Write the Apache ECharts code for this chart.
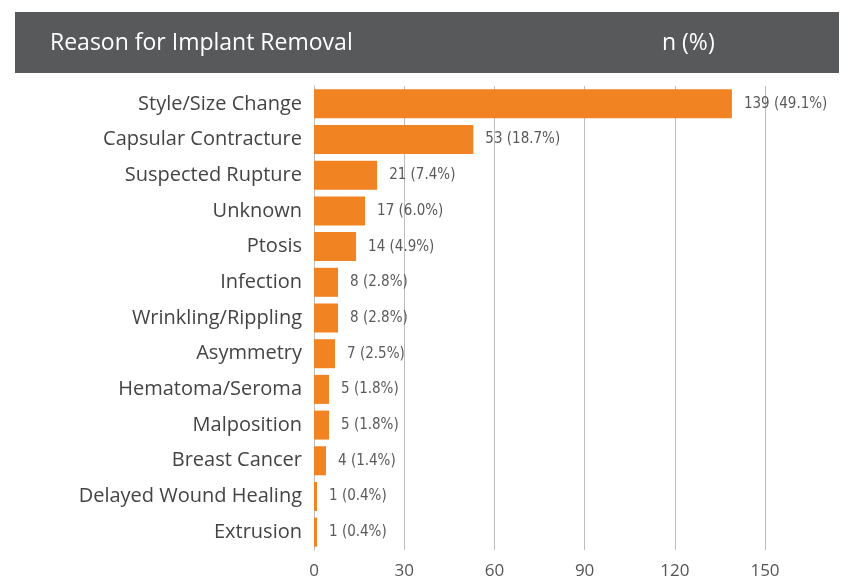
<!DOCTYPE html>
<html>
<head>
<meta charset="utf-8">
<script src="https://cdn.jsdelivr.net/npm/echarts@6/dist/echarts.min.js"></script>
<style>
  html, body { margin: 0; padding: 0; background: #fff; }
  #chart { width: 852px; height: 580px; }
</style>
</head>
<body>
<div id="chart"></div>
<script>
const reasons = [
    'Style/Size Change', 'Capsular Contracture', 'Suspected Rupture', 'Unknown',
    'Ptosis', 'Infection', 'Wrinkling/Rippling', 'Asymmetry', 'Hematoma/Seroma',
    'Malposition', 'Breast Cancer', 'Delayed Wound Healing', 'Extrusion'
]
const counts = [139, 53, 21, 17, 14, 8, 8, 7, 5, 5, 4, 1, 1]
const percents = ['49.1', '18.7', '7.4', '6.0', '4.9', '2.8', '2.8', '2.5', '1.8', '1.8', '1.4', '0.4', '0.4']
const headerTitle = 'Reason for Implant Removal'
const headerCol = 'n (%)'

const chart = echarts.init(document.getElementById('chart'))

const option = {
    animation: false,
    graphic: [
        {
            type: 'rect',
            shape: { x: 15, y: 12, width: 824, height: 61 },
            style: { fill: '#58595b' }
        },
        {
            type: 'text',
            x: 50, y: 43,
            style: { text: headerTitle, fill: '#fff', font: '23px "Open Sans", sans-serif', verticalAlign: 'middle' }
        },
        {
            type: 'text',
            x: 662, y: 43,
            style: { text: headerCol, fill: '#fff', font: '23px "Open Sans", sans-serif', verticalAlign: 'middle' }
        }
    ],
    grid: { left: 314, top: 86, width: 451, height: 468, containLabel: false },
    xAxis: {
        type: 'value',
        min: 0,
        max: 150,
        interval: 30,
        axisLine: { show: false },
        axisTick: { show: false },
        splitLine: { lineStyle: { color: '#bdbdbd', width: 1 } },
        axisLabel: { color: '#555', fontSize: 17, fontFamily: 'Open Sans', margin: 13 }
    },
    yAxis: {
        type: 'category',
        inverse: true,
        data: reasons,
        axisLine: { show: true, lineStyle: { color: '#bdbdbd' } },
        axisTick: { show: false },
        axisLabel: { color: '#444', fontSize: 20, fontFamily: 'Open Sans', margin: 12 }
    },
    series: [{
        type: 'bar',
        data: counts,
        barWidth: 29,
        itemStyle: { color: '#f28322' },
        label: {
            show: true,
            position: 'right',
            distance: 12,
            color: '#5a5a5a',
            fontSize: 15,
            fontFamily: '"Liberation Sans Narrow", "DejaVu Sans Condensed", sans-serif',
            formatter: p => counts[p.dataIndex] + ' (' + percents[p.dataIndex] + '%)'
        }
    }]
}

chart.setOption(option)
</script>
</body>
</html>
